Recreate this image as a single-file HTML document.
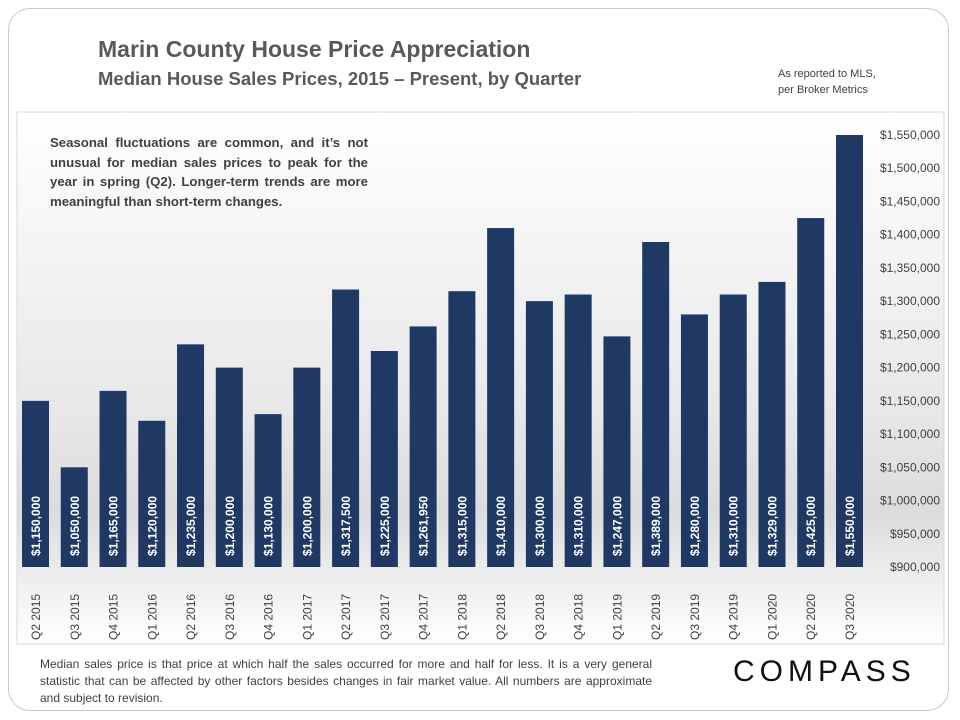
<!DOCTYPE html>
<html><head><meta charset="utf-8">
<style>
body{margin:0;width:960px;height:720px;background:#fff;font-family:"Liberation Sans",sans-serif;overflow:hidden;position:relative}
.frame{position:absolute;left:8px;top:8px;width:941px;height:703px;border:1px solid #c8c8c8;border-radius:22px;box-sizing:border-box}
.t1{position:absolute;left:98px;top:36px;font-size:23px;font-weight:bold;color:#595959}
.t2{position:absolute;left:98px;top:68px;font-size:18.5px;font-weight:bold;color:#595959}
.src{position:absolute;left:778px;top:66px;font-size:11px;color:#404040;line-height:16px}
.foot{position:absolute;left:40px;top:656px;width:612px;font-size:12px;color:#404040;line-height:17px;text-align:justify}
.logo{position:absolute;left:733px;top:655px;font-size:30px;letter-spacing:5px;color:#111}
</style></head><body>
<div class="frame"></div>
<div class="t1">Marin County House Price Appreciation</div>
<div class="t2">Median House Sales Prices, 2015 – Present, by Quarter</div>
<div class="src">As reported to MLS,<br>per Broker Metrics</div>
<svg id="chart" width="960" height="720" style="position:absolute;left:0;top:0">
<defs>
<linearGradient id="bg" x1="0" y1="0" x2="0" y2="1">
<stop offset="0" stop-color="#ffffff"/><stop offset="0.55" stop-color="#e8e8e8"/><stop offset="0.75" stop-color="#dcdcdc"/><stop offset="1" stop-color="#ffffff"/>
</linearGradient>
</defs>
<rect x="17" y="112" width="927" height="532" fill="url(#bg)" stroke="#d8d8d8"/>
<g id="bars"></g><g id="yt"></g><g id="xt"></g>
</svg>
<div class="foot">Median sales price is that price at which half the sales occurred for more and half for less. It is a very general statistic that can be affected by other factors besides changes in fair market value. All numbers are approximate and subject to revision.</div>
<div class="logo">COMPASS</div>
<div style="position:absolute;left:50px;top:133px;width:318px;font-size:13.2px;font-weight:bold;color:#404040;line-height:19.5px;text-align:justify">Seasonal fluctuations are common, and it’s not unusual for median sales prices to peak for the year in spring (Q2). Longer-term trends are more meaningful than short-term changes.</div>
<script>
const categories=["Q2 2015","Q3 2015","Q4 2015","Q1 2016","Q2 2016","Q3 2016","Q4 2016","Q1 2017","Q2 2017","Q3 2017","Q4 2017","Q1 2018","Q2 2018","Q3 2018","Q4 2018","Q1 2019","Q2 2019","Q3 2019","Q4 2019","Q1 2020","Q2 2020","Q3 2020"];
const values=[1150000,1050000,1165000,1120000,1235000,1200000,1130000,1200000,1317500,1225000,1261950,1315000,1410000,1300000,1310000,1247000,1389000,1280000,1310000,1329000,1425000,1550000];
const yTicks=[900000,950000,1000000,1050000,1100000,1150000,1200000,1250000,1300000,1350000,1400000,1450000,1500000,1550000];
const NS="http://www.w3.org/2000/svg";
const n=categories.length;
const y=v=>567-(v-900000)*(432/650000);
const x=i=>35.5+i*((849.5-35.5)/(n-1));
const fmt=v=>"$"+v.toLocaleString("en-US");
function mk(t,a,p){const e=document.createElementNS(NS,t);for(const k in a)e.setAttribute(k,a[k]);p.appendChild(e);return e;}
const gb=document.getElementById("bars"),gy=document.getElementById("yt"),gx=document.getElementById("xt");
values.forEach((v,i)=>{
 const r=mk("rect",{x:x(i)-13.5,y:y(v),width:27,height:567-y(v),fill:"#1f3864"},gb);
 
 
 const t=mk("text",{x:0,y:0,transform:`translate(${x(i)+4.5},556) rotate(-90)`,fill:"#fff","font-size":"12","font-weight":"bold"},gb);
 t.textContent=fmt(v);
 
 
 const c=mk("text",{x:0,y:0,transform:`translate(${x(i)+4.5},640) rotate(-90)`,fill:"#404040","font-size":"12"},gx);
 c.textContent=categories[i];
 
 
});
yTicks.forEach(v=>{
 const t=mk("text",{x:940,y:y(v)+4,"text-anchor":"end",fill:"#404040","font-size":"12"},gy);
 t.textContent=fmt(v);
 
 
});
</script>
</body></html>
